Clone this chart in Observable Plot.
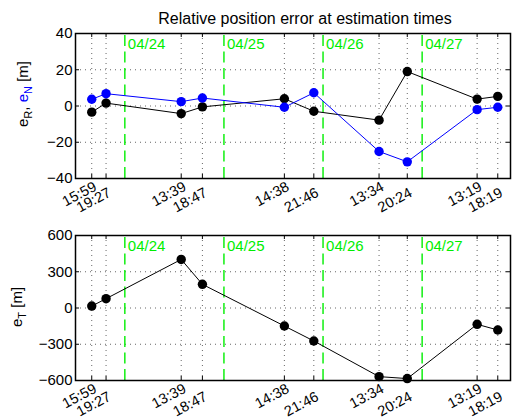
<!DOCTYPE html>
<html><head><meta charset="utf-8">
<script src="https://cdn.jsdelivr.net/npm/d3@7"></script>
<script src="https://cdn.jsdelivr.net/npm/@observablehq/plot@0.6"></script>
<style>
body{margin:0;background:#fff;}
#c{width:513px;}
#c svg{display:block;}
</style>
</head><body><div id="c"></div>
<script>
// ---- data ----
const timeDays   = ["04/23","04/23","04/24","04/24","04/25","04/25","04/26","04/26","04/27","04/27"];
const timeLabels = ["15:59","19:27","13:39","18:47","14:38","21:46","13:34","20:24","13:19","18:19"];
const eR = [-3.4, 1.6, -4.2, -0.5, 4.0, -2.9, -7.8, 19.0, 3.8, 5.3];
const eN = [3.7, 6.8, 2.4, 4.4, -0.7, 7.3, -25.1, -30.8, -2.0, -0.7];
const eT = [16, 77, 402, 196, -149, -273, -568, -584, -135, -182];
const dayMarks = ["04/24","04/25","04/26","04/27"];
const ticksRN = [-40, -20, 0, 20, 40];
const ticksT = [-600, -300, 0, 300, 600];
const titleText = "Relative position error at estimation times";

// ---- helpers ----
const toHours = (day, hm) => {
  const d = +day.split("/")[1];
  const [h, m] = hm ? hm.split(":").map(Number) : [0, 0];
  return (d - 23) * 24 + h + m / 60;
};
const hrs = timeLabels.map((t, i) => toHours(timeDays[i], t));
const dayHrs = dayMarks.map(d => toHours(d));
const xDomain = [12.05, 117.4];
const FONT = "Liberation Sans, Arial, Helvetica, sans-serif";

function panel({height, mt, mb, yDomain, yTicks, series, title}) {
  const W = 513, ml = 75, mr = 3;
  const pxPerX = (W - ml - mr) / (xDomain[1] - xDomain[0]);
  const pxPerY = (height - mt - mb) / (yDomain[1] - yDomain[0]);
  const tx = 4 / pxPerX, ty = 4 / pxPerY;
  const gridStyle = {stroke: "#666", strokeDasharray: "1,4", strokeWidth: 1};
  const marks = [
    Plot.ruleX(hrs, {...gridStyle}),
    Plot.ruleY(yTicks, {...gridStyle}),
    Plot.ruleX(dayHrs, {y1: yDomain[0], y2: yDomain[1], stroke: "#00ee00", strokeWidth: 1.4, strokeDasharray: "11,5.5"}),
    Plot.text(dayMarks, {x: (d, i) => dayHrs[i], text: d => d, frameAnchor: "top", textAnchor: "start",
      lineAnchor: "middle", dx: 3, dy: 11, fill: "#00ee00", fontSize: 15}),
    Plot.ruleX(hrs, {y1: yDomain[0], y2: yDomain[0] + ty, stroke: "#000"}),
    Plot.ruleX(hrs, {y1: yDomain[1], y2: yDomain[1] - ty, stroke: "#000"}),
    Plot.ruleY(yTicks, {x1: xDomain[0], x2: xDomain[0] + tx, stroke: "#000"}),
    Plot.ruleY(yTicks, {x1: xDomain[1], x2: xDomain[1] - tx, stroke: "#000"}),
    Plot.axisY({ticks: yTicks, tickSize: 0, tickPadding: 3, fontSize: 15, label: null}),
    Plot.text(timeLabels, {x: (d, i) => hrs[i], text: d => d, frameAnchor: "bottom", textAnchor: "end",
      lineAnchor: "top", rotate: -28, fontSize: 14.5, dx: 1}),
  ];
  for (const s of series) {
    const data = s.values.map((v, i) => ({x: hrs[i], y: v}));
    marks.push(Plot.line(data, {x: "x", y: "y", stroke: s.color, strokeWidth: 1}));
    marks.push(Plot.dot(data, {x: "x", y: "y", r: 4.7, fill: s.color, stroke: "none"}));
  }
  marks.push(Plot.frame({stroke: "#000", strokeWidth: 1.5}));
  if (title) marks.push(Plot.text([title], {frameAnchor: "top", lineAnchor: "bottom", dx: 12, dy: -10, fontSize: 16}));
  return Plot.plot({
    width: W, height, marginLeft: ml, marginRight: mr, marginTop: mt, marginBottom: mb,
    style: {fontFamily: FONT, fontSize: "15px", color: "#000", background: "#fff", overflow: "visible"},
    x: {domain: xDomain, axis: null},
    y: {domain: yDomain, axis: null},
    marks
  });
}

const c = document.getElementById("c");
const top1 = panel({height: 210, mt: 33, mb: 32, yDomain: [-40, 40], yTicks: ticksRN,
  series: [{values: eR, color: "#000"}, {values: eN, color: "#0000ff"}], title: titleText});
const bot = panel({height: 209, mt: 25, mb: 39, yDomain: [-600, 600], yTicks: ticksT,
  series: [{values: eT, color: "#000"}]});
c.appendChild(top1);
c.appendChild(bot);

// stagger x tick labels (every second label lower)
function stagger(svg, off1, off2) {
  const texts = d3.select(svg).selectAll("text").filter(function() { return timeLabels.includes(this.textContent); });
  texts.each(function(d, i) {
    const el = d3.select(this);
    const t = el.attr("transform") || "";
    el.attr("transform", `translate(0,${i % 2 ? off2 : off1}) ` + t);
  });
}
stagger(top1, 2, 8);
stagger(bot, 2, 10);

// rich y labels
function yLabel(svg, x, y, parts) {
  const t = d3.select(svg).append("text")
    .attr("transform", `translate(${x},${y}) rotate(-90)`)
    .attr("text-anchor", "middle").attr("font-family", FONT).attr("font-size", 15);
  for (const p of parts) {
    const s = t.append("tspan").attr("fill", p.color || "#000").text(p.text);
    if (p.sub) s.attr("font-size", 11).attr("dy", 4);
    if (p.up) s.attr("dy", -4);
  }
}
yLabel(top1, 28, 94, [
  {text: "e"}, {text: "R", sub: true}, {text: ", ", up: true},
  {text: "e", color: "#0000ff"}, {text: "N", sub: true, color: "#0000ff"}, {text: " [m]", up: true}
]);
yLabel(bot, 22, 97, [{text: "e"}, {text: "T", sub: true}, {text: " [m]", up: true}]);
</script>
</body></html>
